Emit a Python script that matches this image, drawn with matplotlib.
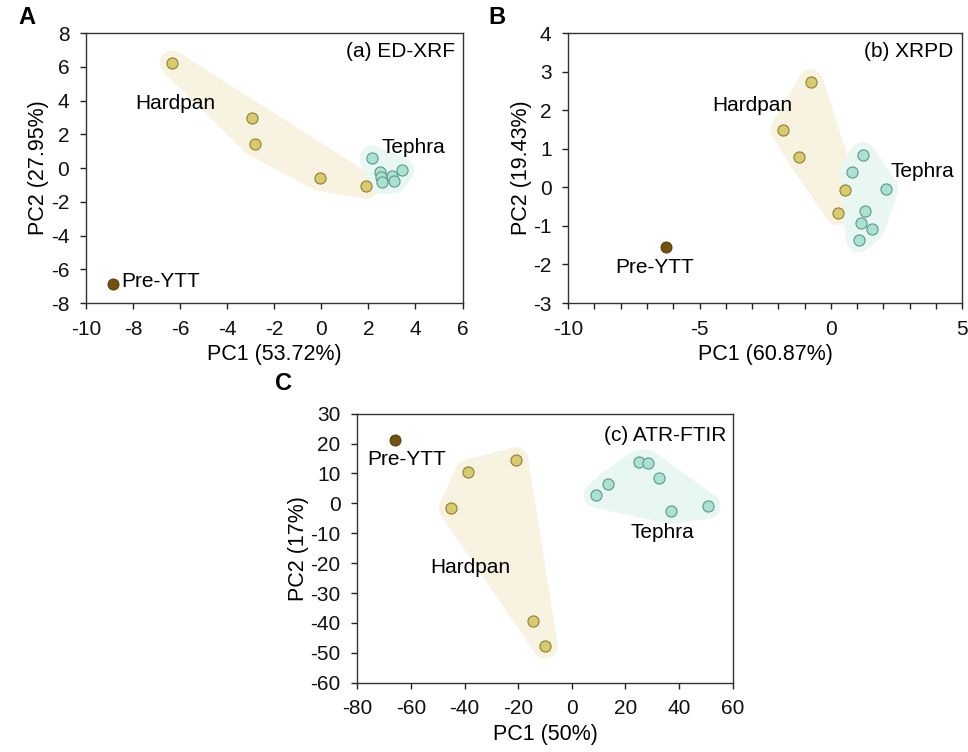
import matplotlib
matplotlib.use("Agg")
import matplotlib.pyplot as plt
from matplotlib.patches import Polygon
from matplotlib.ticker import MultipleLocator
import numpy as np

plt.rcParams['font.family'] = ['Liberation Sans', 'DejaVu Sans']
plt.rcParams['axes.unicode_minus'] = False

# ---- data ----
# (a) ED-XRF
a_hardpan_x = [-6.34, -2.96, -2.82, -0.06, 1.90]
a_hardpan_y = [6.22, 2.95, 1.41, -0.61, -1.07]
a_tephra_x = [2.16, 2.51, 2.55, 2.58, 3.00, 3.10, 3.42]
a_tephra_y = [0.61, -0.26, -0.50, -0.81, -0.45, -0.75, -0.12]
a_pre_x = [-8.84]
a_pre_y = [-6.89]

# (b) XRPD
b_hardpan_x = [-0.76, -1.83, -1.20, 0.55, 0.27]
b_hardpan_y = [2.74, 1.50, 0.79, -0.08, -0.66]
b_tephra_x = [1.22, 0.80, 2.09, 1.29, 1.16, 1.57, 1.06]
b_tephra_y = [0.85, 0.40, -0.03, -0.62, -0.92, -1.08, -1.37]
b_pre_x = [-6.28]
b_pre_y = [-1.55]

# (c) ATR-FTIR
c_hardpan_x = [-38.7, -20.9, -44.9, -14.5, -9.9]
c_hardpan_y = [10.4, 14.6, -1.6, -39.5, -47.7]
c_tephra_x = [9.1, 13.5, 25.1, 28.5, 32.4, 36.9, 50.8]
c_tephra_y = [2.7, 6.4, 13.8, 13.5, 8.5, -2.7, -1.0]
c_pre_x = [-65.8]
c_pre_y = [21.3]

HARD_FACE = '#d9ca6c'
HARD_EDGE = '#8c803c'
HARD_HULL = '#f7f3e0'
TEPH_FACE = '#a9e2d3'
TEPH_EDGE = '#5f968a'
TEPH_HULL = '#e8f7f2'
PRE_FACE = '#72520e'
FS = 15


def hull(xs, ys):
    pts = sorted(set(zip(xs, ys)))
    def cross(o, a, b):
        return (a[0]-o[0])*(b[1]-o[1]) - (a[1]-o[1])*(b[0]-o[0])
    lower, upper = [], []
    for p in pts:
        while len(lower) >= 2 and cross(lower[-2], lower[-1], p) <= 0:
            lower.pop()
        lower.append(p)
    for p in reversed(pts):
        while len(upper) >= 2 and cross(upper[-2], upper[-1], p) <= 0:
            upper.pop()
        upper.append(p)
    return np.array(lower[:-1] + upper[:-1])


def panel(ax, hx, hy, tx, ty, px, py, xlim, ylim, xmaj, ymaj, xmin=None):
    for xs, ys, col in [(hx, hy, HARD_HULL), (tx, ty, TEPH_HULL)]:
        poly = Polygon(hull(xs, ys), closed=True, fc=col, ec=col, lw=18,
                       joinstyle='round', zorder=1)
        ax.add_patch(poly)
    ax.scatter(hx, hy, s=64, c=HARD_FACE, edgecolors=HARD_EDGE, linewidths=0.8, zorder=3)
    ax.scatter(tx, ty, s=64, c=TEPH_FACE, edgecolors=TEPH_EDGE, linewidths=0.8, zorder=3)
    ax.scatter(px, py, s=64, c=PRE_FACE, edgecolors='#4a3508', linewidths=0.6, zorder=3)
    ax.set_xlim(*xlim)
    ax.set_ylim(*ylim)
    ax.xaxis.set_major_locator(MultipleLocator(xmaj))
    ax.yaxis.set_major_locator(MultipleLocator(ymaj))
    if xmin:
        ax.xaxis.set_minor_locator(MultipleLocator(xmin))
    ax.tick_params(which='both', direction='out', length=4, width=1, labelsize=FS,
                   colors='#222222', labelcolor='#111111', top=False, right=False, pad=8)
    ax.tick_params(which='minor', length=4)
    for s in ax.spines.values():
        s.set_color('#333333')
        s.set_linewidth(1)


fig = plt.figure(figsize=(9.68, 7.52), dpi=100)
axA = fig.add_axes([0.0888, 0.597, 0.389, 0.359])
axB = fig.add_axes([0.587, 0.597, 0.407, 0.359])
axC = fig.add_axes([0.369, 0.092, 0.388, 0.358])

panel(axA, a_hardpan_x, a_hardpan_y, a_tephra_x, a_tephra_y, a_pre_x, a_pre_y,
      (-10, 6), (-8, 8), 2, 2)
panel(axB, b_hardpan_x, b_hardpan_y, b_tephra_x, b_tephra_y, b_pre_x, b_pre_y,
      (-10, 5), (-3, 4), 5, 1, 1)
panel(axC, c_hardpan_x, c_hardpan_y, c_tephra_x, c_tephra_y, c_pre_x, c_pre_y,
      (-80, 60), (-60, 30), 20, 10)

LFS = 15.5
axA.set_xlabel('PC1 (53.72%)', fontsize=LFS, labelpad=4)
axA.set_ylabel('PC2 (27.95%)', fontsize=LFS, labelpad=1)
axB.set_xlabel('PC1 (60.87%)', fontsize=LFS, labelpad=4)
axB.set_ylabel('PC2 (19.43%)', fontsize=LFS, labelpad=1)
axC.set_xlabel('PC1 (50%)', fontsize=LFS, labelpad=4)
axC.set_ylabel('PC2 (17%)', fontsize=LFS, labelpad=1)

axA.text(0.979, 0.93, '(a) ED-XRF', transform=axA.transAxes, ha='right', va='center', fontsize=FS)
axB.text(0.977, 0.93, '(b) XRPD', transform=axB.transAxes, ha='right', va='center', fontsize=FS)
axC.text(0.983, 0.92, '(c) ATR-FTIR', transform=axC.transAxes, ha='right', va='center', fontsize=FS)

axA.text(-6.2, 3.85, 'Hardpan', ha='center', va='center', fontsize=FS)
axA.text(3.9, 1.24, 'Tephra', ha='center', va='center', fontsize=FS)
axA.text(-8.5, -6.7, 'Pre-YTT', ha='left', va='center', fontsize=FS)

axB.text(-3.0, 2.13, 'Hardpan', ha='center', va='center', fontsize=FS)
axB.text(3.5, 0.4, 'Tephra', ha='center', va='center', fontsize=FS)
axB.text(-6.7, -2.09, 'Pre-YTT', ha='center', va='center', fontsize=FS)

axC.text(-37.9, -21.4, 'Hardpan', ha='center', va='center', fontsize=FS)
axC.text(33.7, -9.7, 'Tephra', ha='center', va='center', fontsize=FS)
axC.text(-61.6, 14.6, 'Pre-YTT', ha='center', va='center', fontsize=FS)

fig.text(27 / 968, 1 - 17 / 752, 'A', fontsize=17, fontweight='bold', ha='center', va='center')
fig.text(497 / 968, 1 - 17 / 752, 'B', fontsize=17, fontweight='bold', ha='center', va='center')
fig.text(283 / 968, 1 - 383 / 752, 'C', fontsize=17, fontweight='bold', ha='center', va='center')

fig.savefig('out.png', dpi=100)
